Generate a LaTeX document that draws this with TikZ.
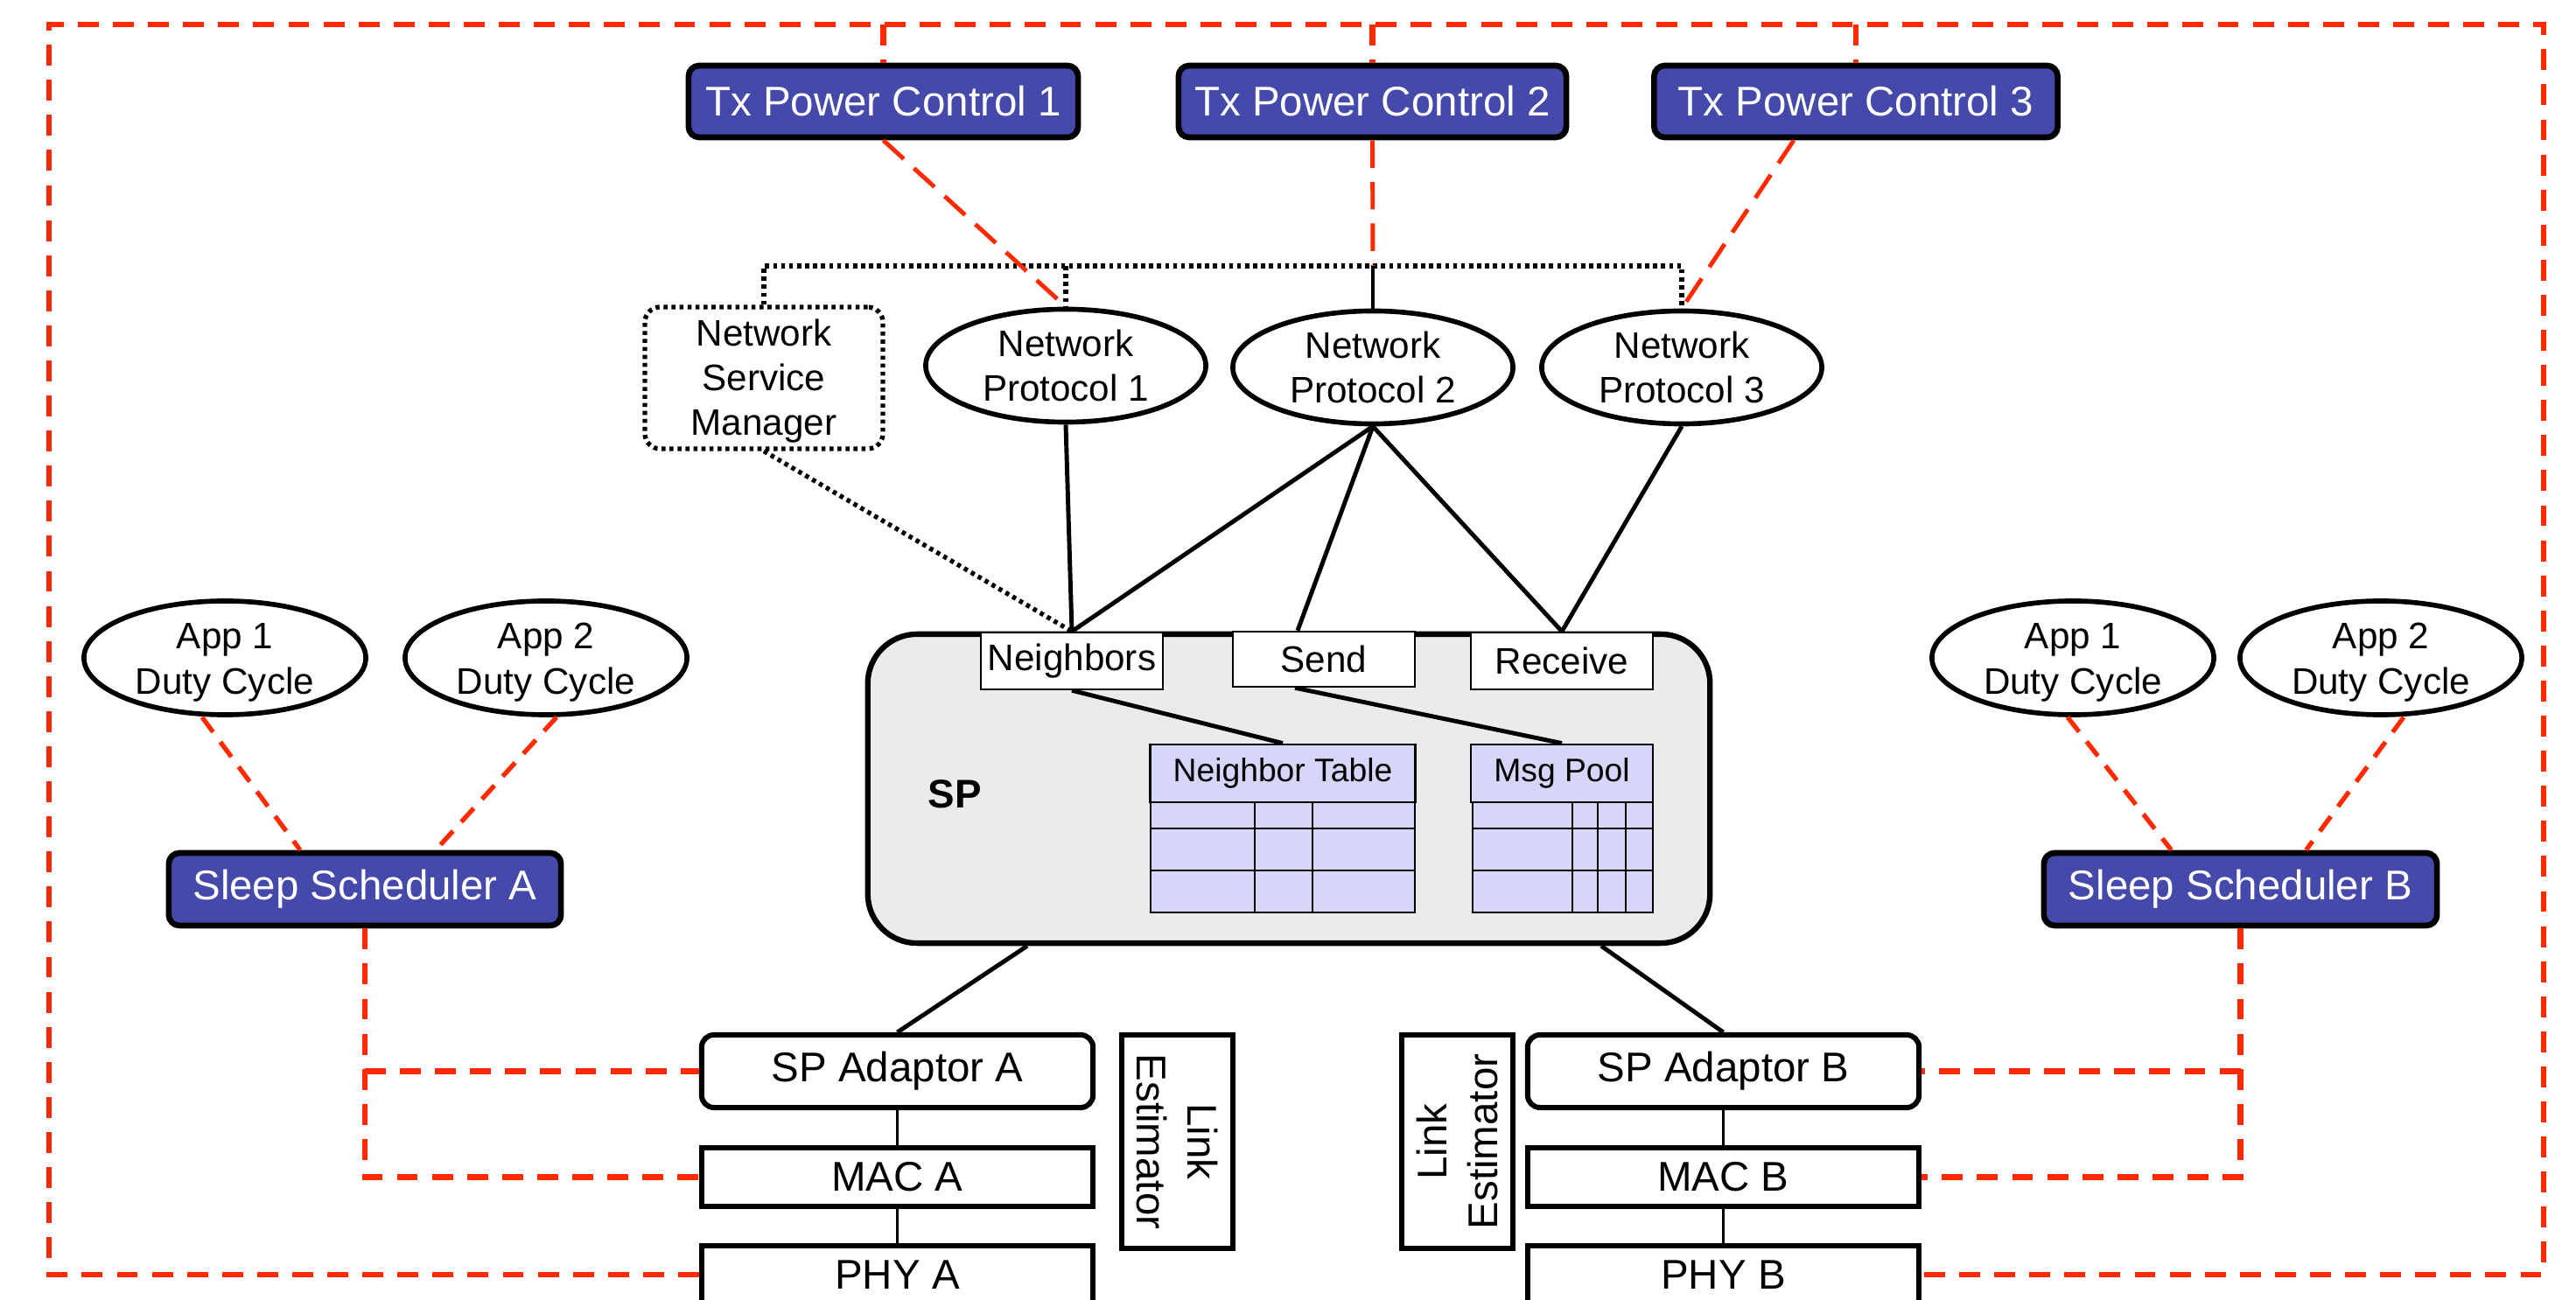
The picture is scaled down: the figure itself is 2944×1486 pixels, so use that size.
\documentclass[tikz,border=0pt]{standalone}
\usepackage{fontspec}
\setmainfont{Liberation Sans}
\usetikzlibrary{shapes.geometric,calc}
\definecolor{ctrlblue}{RGB}{69,73,170}
\definecolor{linkred}{RGB}{255,42,0}
\definecolor{tablefill}{RGB}{214,214,250}
\definecolor{spgray}{RGB}{235,235,235}

\begin{document}
\begin{tikzpicture}[x=0.01cm,y=-0.01cm,
  bigtxt/.style={font=\fontsize{13.5}{16.5}\selectfont},
  midtxt/.style={font=\fontsize{12}{14.6}\selectfont},
  smalltxt/.style={font=\fontsize{10.6}{12.5}\selectfont},
  ctrlbox/.style={draw=black, line width=1.9pt, fill=ctrlblue, rounded corners=3.5pt,
    text=white, bigtxt, inner sep=0pt, minimum height=0.82cm},
  layerbox/.style={draw=black, line width=1.7pt, fill=white, bigtxt, inner sep=0pt,
    minimum width=4.47cm},
  portbox/.style={draw=black, line width=0.7pt, fill=white, midtxt, inner sep=0pt,
    minimum width=2.08cm},
  tablehead/.style={draw=black, line width=0.8pt, fill=tablefill, smalltxt, inner sep=0pt,
    minimum height=0.66cm},
  oval/.style={ellipse, draw=black, line width=1.6pt, fill=white, inner sep=0pt},
  ovaltxt/.style={midtxt, align=center, yshift=-1.5pt},
  wire/.style={draw=black, line width=1.4pt},
  dotwire/.style={draw=black, line width=1.5pt, dash pattern=on 1.3pt off 1.3pt},
  ctlwire/.style={draw=linkred, line width=1.8pt, dash pattern=on 6.8pt off 4.6pt},
  tuneline/.style={draw=linkred, line width=1.4pt, dash pattern=on 9pt off 4.5pt},
  appline/.style={draw=linkred, line width=1.5pt, dash pattern=on 6pt off 4pt},
]
\clip (0,0) rectangle (2944,1486);
\fill[white] (0,0) rectangle (2944,1486);

% ---------- transmit power controllers ----------
\node[ctrlbox, minimum width=4.45cm] (tx1) at (1009.5,116) {Tx Power Control 1};
\node[ctrlbox, minimum width=4.43cm] (tx2) at (1568.5,116) {Tx Power Control 2};
\node[ctrlbox, minimum width=4.61cm] (tx3) at (2121,116) {Tx Power Control 3};

% ---------- network layer ----------
\node[draw=black, line width=1.5pt, dash pattern=on 1.3pt off 1.3pt, rounded corners=5pt,
  fill=white, inner sep=0pt, minimum width=2.72cm, minimum height=1.62cm,
  label={[midtxt,align=center,yshift=-1pt]center:{Network\\Service\\Manager}}]
  (nsm) at (873,432) {};
\node[oval, minimum width=3.2cm, minimum height=1.29cm,
  label={[ovaltxt,yshift=1.5pt]center:{Network\\Protocol 1}}] (np1) at (1218,418) {};
\node[oval, minimum width=3.2cm, minimum height=1.29cm,
  label={[ovaltxt,yshift=1.5pt]center:{Network\\Protocol 2}}] (np2) at (1569,420) {};
\node[oval, minimum width=3.2cm, minimum height=1.29cm,
  label={[ovaltxt,yshift=1.5pt]center:{Network\\Protocol 3}}] (np3) at (1922,420) {};

% ---------- SP core ----------
\node[draw=black, line width=1.8pt, fill=spgray, rounded corners=16pt,
  minimum width=9.62cm, minimum height=3.53cm] (sp) at (1473,901.5) {};
\node[font=\fontsize{13}{15}\bfseries\selectfont] (splabel) at (1091,908) {SP};
\node[portbox, minimum height=0.65cm] (nb) at (1225,755.5) {Neighbors};
\node[portbox, minimum height=0.63cm] (send) at (1513,753.5) {Send};
\node[portbox, minimum height=0.65cm] (recv) at (1785,755.5) {Receive};

% neighbor table
\node[tablehead, minimum width=3.03cm] (nt) at (1466,884) {Neighbor Table};
\fill[tablefill] (1315,917) rectangle (1617,1043);
\draw[line width=0.8pt] (1315,917) rectangle (1617,1043)
  (1315,947) -- (1617,947) (1315,995) -- (1617,995)
  (1434,917) -- (1434,1043) (1500,917) -- (1500,1043);

% message pool
\node[tablehead, minimum width=2.08cm] (mp) at (1785,884) {Msg Pool};
\fill[tablefill] (1683,917) rectangle (1889,1043);
\draw[line width=0.8pt] (1683,917) rectangle (1889,1043)
  (1683,947) -- (1889,947) (1683,995) -- (1889,995)
  (1797,917) -- (1797,1043) (1826,917) -- (1826,1043) (1858,917) -- (1858,1043);

% ---------- applications and sleep schedulers ----------
\node[oval, minimum width=3.22cm, minimum height=1.30cm,
  label={[ovaltxt]center:{App 1\\Duty Cycle}}] (app1L) at (257,752) {};
\node[oval, minimum width=3.22cm, minimum height=1.30cm,
  label={[ovaltxt]center:{App 2\\Duty Cycle}}] (app2L) at (624,752) {};
\node[oval, minimum width=3.22cm, minimum height=1.30cm,
  label={[ovaltxt]center:{App 1\\Duty Cycle}}] (app1R) at (2369,752) {};
\node[oval, minimum width=3.22cm, minimum height=1.30cm,
  label={[ovaltxt]center:{App 2\\Duty Cycle}}] (app2R) at (2721,752) {};
\node[ctrlbox, minimum width=4.48cm, minimum height=0.83cm] (ssa) at (417,1016.5) {Sleep Scheduler A};
\node[ctrlbox, minimum width=4.49cm, minimum height=0.83cm] (ssb) at (2560.5,1016.5) {Sleep Scheduler B};

% ---------- radio stacks ----------
\node[layerbox, rounded corners=4pt, minimum height=0.83cm] (spa) at (1025.5,1224.5) {SP Adaptor A};
\node[layerbox, minimum height=0.67cm] (maca) at (1025.5,1345.5) {MAC A};
\node[layerbox, minimum height=0.66cm] (phya) at (1025.5,1457) {PHY A};
\node[layerbox, rounded corners=4pt, minimum height=0.83cm] (spb) at (1969.5,1224.5) {SP Adaptor B};
\node[layerbox, minimum height=0.67cm] (macb) at (1969.5,1345.5) {MAC B};
\node[layerbox, minimum height=0.66cm] (phyb) at (1969.5,1457) {PHY B};
\node[layerbox, align=center, rotate=-90, minimum width=2.44cm, minimum height=1.27cm]
  (lea) at (1345.5,1305) {Link\\Estimator};
\node[layerbox, align=center, rotate=90, minimum width=2.44cm, minimum height=1.27cm]
  (leb) at (1665.5,1305) {Link\\Estimator};

% ---------- black connectors ----------
\coordinate (bus) at (0,304);
\draw[dotwire] (nsm.north) |- (np3.north |- bus) -- (np3.north);
\draw[dotwire] (np1.north |- bus) -- (np1.north);
\draw[black, line width=0.9pt] (np2.north |- bus) -- (np2.north);
\draw[dotwire] (nsm.south) -- (nb.north);
\draw[wire] (np1.south) -- (nb.north);
\draw[wire] (np2.south) -- (nb.north);
\draw[wire] (np2.south) -- ($(send.north)+(-30,0)$);
\draw[wire] (np2.south) -- (recv.north);
\draw[wire] (np3.south) -- (recv.north);
\draw[wire] (nb.south) -- (nt.north);
\draw[wire] ($(send.south)+(-33,0)$) -- (mp.north);
\draw[wire] ($(sp.south)+(-299,0)$) -- (spa.north);
\draw[wire] ($(sp.south)+(357,0)$) -- (spb.north);
\draw[wire, line width=1pt] (spa.south) -- (maca.north) (maca.south) -- (phya.north);
\draw[wire, line width=1pt] (spb.south) -- (macb.north) (macb.south) -- (phyb.north);

% ---------- red control connectors ----------
\coordinate (fnw) at (56,28);
\coordinate (fne) at (2907,28);
\coordinate (fsw) at (56,1457);
\coordinate (fse) at (2907,1457);
\draw[ctlwire] (phya.west) -- (fsw) -- (fnw) -- (fne) -- (fse) -- (phyb.east);
\draw[ctlwire] (tx1.north |- fnw) -- (tx1.north);
\draw[ctlwire] (tx2.north |- fnw) -- (tx2.north);
\draw[ctlwire] (tx3.north |- fnw) -- (tx3.north);

\draw[tuneline] (tx1.south) -- (np1.north);
\draw[tuneline] (tx2.south) -- (np2.north |- bus);
\draw[tuneline] ($(tx3.south)+(-71,0)$) -- (np3.north);

\draw[appline] ($(app1L.south)+(-26,0)$) -- ($(ssa.north)+(-74,0)$);
\draw[appline] ($(app2L.south)+(12,0)$) -- ($(ssa.north)+(81,0)$);
\draw[appline] ($(app1R.south)+(-6,0)$) -- ($(ssb.north)+(-79,0)$);
\draw[appline] ($(app2R.south)+(26,0)$) -- ($(ssb.north)+(75,0)$);

\draw[ctlwire] (ssa.south) |- (maca.west);
\draw[ctlwire] (ssa.south |- spa.west) -- (spa.west);
\draw[ctlwire] (ssb.south) |- (macb.east);
\draw[ctlwire] (ssb.south |- spb.east) -- (spb.east);
\end{tikzpicture}
\end{document}
